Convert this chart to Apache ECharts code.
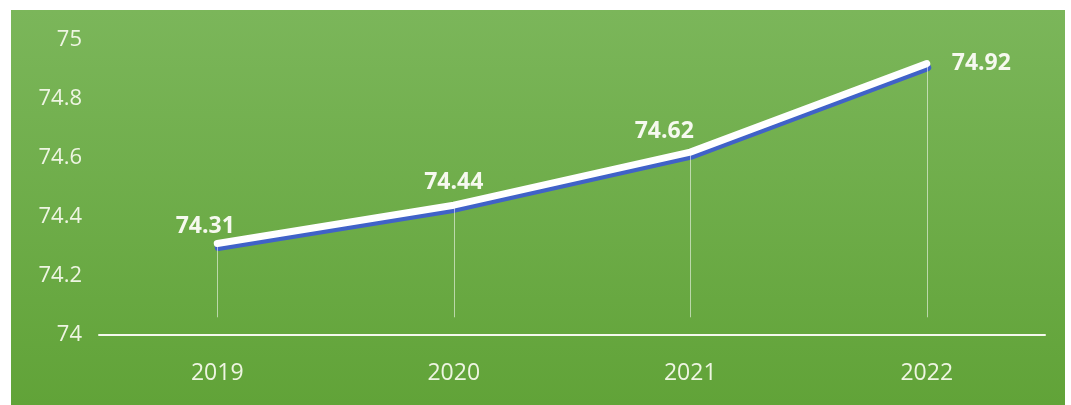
<!DOCTYPE html>
<html><head><meta charset="utf-8">
<script src="https://cdn.jsdelivr.net/npm/echarts@6/dist/echarts.min.js"></script>
<style>html,body{margin:0;padding:0;background:#fff}#c{width:1071px;height:405px}</style>
</head><body><div id="c"></div>
<script>
const categories = ['2019', '2020', '2021', '2022'];
const values = [74.31, 74.44, 74.62, 74.92];
const yTicks = [74, 74.2, 74.4, 74.6, 74.8, 75];
const labelPos = [
  {position: 'top', offset: [-12, 1]},
  {position: 'top', offset: [0, -4]},
  {position: 'top', offset: [-26, -2]},
  {position: 'right', offset: [18, 0]}
];

const chart = echarts.init(document.getElementById('c'));
chart.setOption({
  backgroundColor: '#ffffff',
  animation: false,
  graphic: [{
    type: 'rect', z: -10, silent: true,
    shape: {x: 11, y: 10, width: 1054, height: 395},
    style: {fill: new echarts.graphic.LinearGradient(0, 0, 0, 1, [
      {offset: 0, color: '#7bb65a'}, {offset: 1, color: '#61a338'}
    ])}
  }],
  grid: {left: 99, right: 26, top: 40, bottom: 70},
  xAxis: {
    type: 'category', data: categories, boundaryGap: true,
    axisLine: {lineStyle: {color: '#f4f8ee', width: 2}},
    axisTick: {show: false},
    axisLabel: {color: '#eef5e2', fontSize: 23, margin: 27, fontFamily: 'Open Sans'}
  },
  yAxis: {
    type: 'value', min: 74, max: 75, interval: 0.2,
    axisLine: {show: false}, axisTick: {show: false}, splitLine: {show: false},
    axisLabel: {color: '#eef5e2', fontSize: 22, margin: 17, fontFamily: 'Open Sans',
      formatter: v => String(+v.toFixed(1))}
  },
  series: [{
    type: 'line',
    data: values.map((v, i) => ({value: v, label: labelPos[i]})),
    showSymbol: true, symbol: 'circle', symbolSize: 4,
    itemStyle: {color: '#ffffff'},
    lineStyle: {color: '#ffffff', width: 7, cap: 'round', join: 'round',
      shadowColor: '#4062c8', shadowOffsetY: 4, shadowOffsetX: 1, shadowBlur: 0},
    label: {show: true, color: '#f6f9ef', fontSize: 23, fontWeight: 'bold', fontFamily: 'Open Sans'},
    markLine: {
      silent: true, symbol: 'none', label: {show: false},
      lineStyle: {color: 'rgba(255,255,255,0.55)', width: 1, type: 'solid'},
      data: values.map((v, i) => [{coord: [categories[i], v]}, {coord: [categories[i], 74.06]}])
    },
    z: 3
  }]
});
</script></body></html>
